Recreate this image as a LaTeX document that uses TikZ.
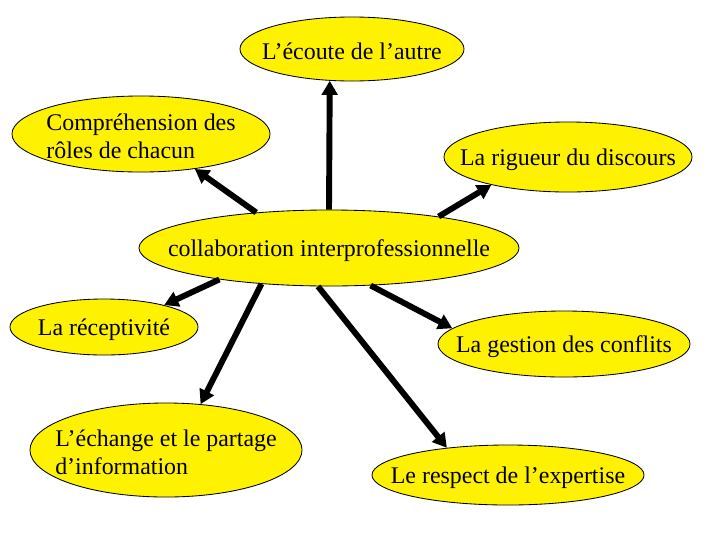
\documentclass[tikz,border=0pt]{standalone}
\usepackage{fontspec}
\setmainfont{Liberation Serif}
\usepackage{tikz}
\usetikzlibrary{shapes.geometric, arrows.meta}

\tikzset{
  bubble/.style={ellipse, draw, line width=0.6pt, fill=yellow, inner sep=0pt},
  link/.style={->, line width=4.2pt},
  every label/.style={yshift=-1.8pt},
}

\begin{document}
\begin{tikzpicture}[>={Triangle[length=10pt, width=11pt]}, x=0.025cm, y=-0.025cm, font=\fontsize{17}{20}\selectfont]
      \useasboundingbox (0,0) rectangle (720,540);

      \node[bubble, minimum width=9.5cm, minimum height=1.9cm,
        label={center:collaboration interprofessionnelle}] (collab) at (329,248) {};

      \node[bubble, minimum width=5.6cm, minimum height=1.6cm,
        label={center:L’écoute de l’autre}] (ecoute) at (352,49) {};
      \node[bubble, minimum width=6.45cm, minimum height=1.9cm,
        label={[align=left]center:{Compréhension des\\rôles de chacun}}] (roles) at (141,134) {};
      \node[bubble, minimum width=6.2cm, minimum height=1.75cm,
        label={center:La rigueur du discours}] (rigueur) at (568,157) {};
      \node[bubble, minimum width=4.7cm, minimum height=1.4cm,
        label={center:La réceptivité}] (recept) at (104,327) {};
      \node[bubble, minimum width=6.3cm, minimum height=1.65cm,
        label={center:La gestion des conflits}] (conflits) at (564,344) {};
      \node[bubble, minimum width=6.8cm, minimum height=2.35cm,
        label={[align=left]center:{L’échange et le partage\\d’information}}] (echange) at (166,450) {};
      \node[bubble, minimum width=6.8cm, minimum height=1.5cm,
        label={center:Le respect de l’expertise}] (expertise) at (508,475) {};

      \draw[link] (collab.north) -- (ecoute.235);
      \draw[link] (collab.154) -- (roles.-33);
      \draw[link] (collab.16) -- (rigueur.200);
      \draw[link] (collab.196) -- (recept.20);
      \draw[link] (collab.208) -- (echange.53);
      \draw[link] (collab.254) -- (expertise.156);
      \draw[link] (collab.-42) -- (conflits.172);
    \end{tikzpicture}
\end{document}
